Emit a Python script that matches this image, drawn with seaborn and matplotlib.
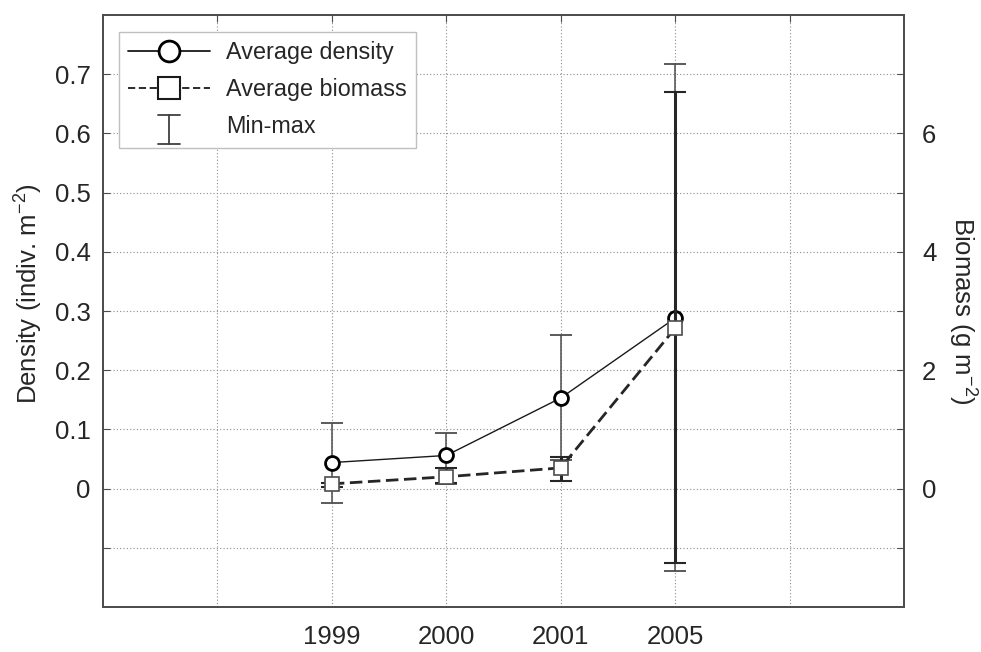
import matplotlib
matplotlib.use("Agg")
import matplotlib.pyplot as plt
import numpy as np
import seaborn as sns
from matplotlib.lines import Line2D
from matplotlib.legend_handler import HandlerBase


# ==============================
# DATA
# ==============================

years = ["1999", "2000", "2001", "2005"]

density = [0.044, 0.056, 0.153, 0.288]
density_min = [-0.025, 0.007, 0.049, -0.140]
density_max = [0.111, 0.094, 0.260, 0.717]

biomass = [0.08, 0.20, 0.35, 2.71]
biomass_min = [0.03, 0.10, 0.135, -1.26]
biomass_max = [0.10, 0.34, 0.54, 6.70]


# ==============================
# STYLE
# ==============================

sns.set_style("white")
plt.rcParams["font.family"] = ["Liberation Sans", "DejaVu Sans"]
plt.rcParams["mathtext.fontset"] = "custom"
plt.rcParams["mathtext.rm"] = "Liberation Sans"
plt.rcParams["mathtext.default"] = "regular"

FS = 18.5
TXT = "0.15"

fig = plt.figure(figsize=(9.81, 6.52), dpi=100)
ax = fig.add_axes([0.105, 0.069, 0.8165, 0.908])
ax2 = ax.twinx()

pos = np.arange(len(years))


# ==============================
# ERROR BARS (MIN-MAX)
# ==============================

dens = np.array(density)
bio = np.array(biomass)

eb = ax.errorbar(
    pos, dens,
    yerr=[dens - np.array(density_min), np.array(density_max) - dens],
    fmt="none", ecolor="0.3", elinewidth=1.1,
    capsize=8, capthick=1.3, zorder=2
)

ax2.errorbar(
    pos, bio,
    yerr=[bio - np.array(biomass_min), np.array(biomass_max) - bio],
    fmt="none", ecolor="0.15", elinewidth=2.2,
    capsize=8, capthick=1.5, zorder=2
)


# ==============================
# LINES
# ==============================

sns.lineplot(
    x=pos, y=density, ax=ax,
    color="0.1", linewidth=1.0,
    marker="o", markersize=10,
    markerfacecolor="white", markeredgecolor="black",
    markeredgewidth=2.0, zorder=3
)

sns.lineplot(
    x=pos, y=biomass, ax=ax2,
    color="0.15", linewidth=2.0, linestyle=(0, (4.5, 2)),
    marker="s", markersize=10,
    markerfacecolor="white", markeredgecolor="0.3",
    markeredgewidth=1.2, zorder=3
)


# ==============================
# AXES
# ==============================

ax.set_xlim(-2, 5)
ax.set_xticks(range(-1, 5))
ax.set_xticklabels([""] + years + [""])

ax.set_ylim(-0.2, 0.8)
d_ticks = [-0.1, 0, 0.1, 0.2, 0.3, 0.4, 0.5, 0.6, 0.7]
ax.set_yticks(d_ticks)
ax.set_yticklabels(["", "0", "0.1", "0.2", "0.3", "0.4", "0.5", "0.6", "0.7"])

ax2.set_ylim(-2, 8)
b_ticks = list(range(-1, 8))
ax2.set_yticks(b_ticks)
ax2.set_yticklabels([str(t) if t in (0, 2, 4, 6) else "" for t in b_ticks])

ax.grid(True, linestyle=(0, (1, 2)), color="0.55", linewidth=0.8)
ax2.grid(False)

ax.tick_params(axis="x", direction="in", top=True, length=5,
               labelsize=FS, labelcolor=TXT, pad=13, color="0.3")
ax.tick_params(axis="y", direction="in", left=True, right=False, length=5,
               labelsize=FS, labelcolor=TXT, pad=9, color="0.3")
ax2.tick_params(axis="y", direction="in", right=True, length=5,
                labelsize=FS, labelcolor=TXT, pad=13, color="0.3")

for a in (ax, ax2):
    for s in a.spines.values():
        s.set_color("0.3")
        s.set_linewidth(1.3)

ax.set_ylabel("Density (indiv. m$^{-2}$)", fontsize=FS, color=TXT)
ax.yaxis.set_label_coords(-0.073, 0.53)
ax2.set_ylabel("Biomass (g m$^{-2}$)", fontsize=FS, color=TXT,
               rotation=270, labelpad=30)
ax.set_xlabel("")


# ==============================
# LEGEND
# ==============================

class IBeamHandler(HandlerBase):
    # I-beam symbol for the min-max entry
    def create_artists(self, legend, orig_handle, xdescent, ydescent,
                       width, height, fontsize, trans):
        cx = width / 2 - xdescent
        cy = height / 2 - ydescent - 3
        half = 10.5
        cap = 8
        artists = [
            Line2D([cx, cx], [cy - half, cy + half], color="0.25", lw=1.3),
            Line2D([cx - cap, cx + cap], [cy + half, cy + half], color="0.25", lw=1.3),
            Line2D([cx - cap, cx + cap], [cy - half, cy - half], color="0.25", lw=1.3),
        ]
        for art in artists:
            art.set_transform(trans)
        return artists


h_dens = Line2D([], [], color="0.1", linewidth=1.3, marker="o",
                markersize=15, markerfacecolor="white",
                markeredgecolor="black", markeredgewidth=2.0)
h_bio = Line2D([], [], color="0.1", linewidth=1.3, linestyle=(0, (4, 2)),
               marker="s", markersize=16, markerfacecolor="white",
               markeredgecolor="0.1", markeredgewidth=1.5)

leg = ax2.legend(
    [h_dens, h_bio, eb],
    ["Average density", "Average biomass", "Min-max"],
    handler_map={type(eb): IBeamHandler()},
    loc="upper left", bbox_to_anchor=(0.02, 0.971),
    borderaxespad=0, fontsize=16.8, frameon=True, fancybox=False,
    framealpha=1, edgecolor="0.75", handlelength=3.5,
    labelspacing=0.6, borderpad=0.4, handletextpad=0.7
)
for t in leg.get_texts():
    t.set_color(TXT)

fig.savefig("out.png", dpi=100)
